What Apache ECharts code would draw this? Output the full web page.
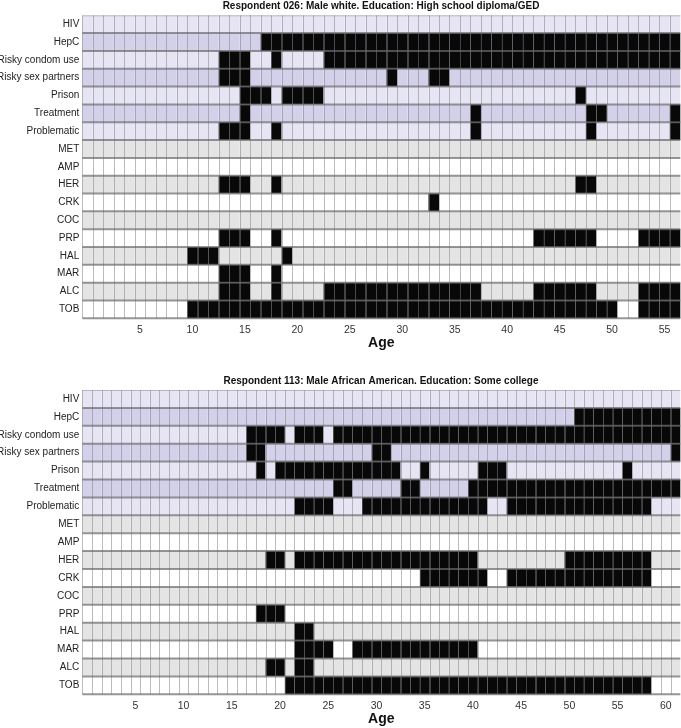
<!DOCTYPE html>
<html><head><meta charset="utf-8">
<script src="https://cdn.jsdelivr.net/npm/echarts@6/dist/echarts.min.js"></script>
<style>html,body{margin:0;padding:0;background:#fff}#c{width:681px;height:728px}</style>
</head><body><div id="c"></div><script>
// Row (indicator) names, top to bottom
const rowNames = ["HIV","HepC","Risky condom use","Risky sex partners","Prison","Treatment","Problematic",
  "MET","AMP","HER","CRK","COC","PRP","HAL","MAR","ALC","TOB"];

// Panel titles
const title026 = "Respondent 026: Male white. Education: High school diploma/GED";
const title113 = "Respondent 113: Male African American. Education: Some college";

// Age ranges (first and last age column) and labelled ticks
const ageMax026 = 56;
const ageMax113 = 61;
const ticks026 = [5,10,15,20,25,30,35,40,45,50,55];
const ticks113 = [5,10,15,20,25,30,35,40,45,50,55,60];

// Cell states per row: one character per age starting at age 0 (1 = black). Spaces only group decades.
const cells026 = [
  "0000000000 0000000000 0000000000 0000000000 0000000000 0000000", // HIV
  "0000000000 0000000111 1111111111 1111111111 1111111111 1111111", // HepC
  "0000000000 0001110010 0001111111 1111111111 1111111111 1111111", // Risky condom use
  "0000000000 0001110000 0000000001 0001100000 0000000000 0000000", // Risky sex partners
  "0000000000 0000011101 1110000000 0000000000 0000000100 0000000", // Prison
  "0000000000 0000010000 0000000000 0000000100 0000000011 0000001", // Treatment
  "0000000000 0001110010 0000000000 0000000100 0000000010 0000001", // Problematic
  "0000000000 0000000000 0000000000 0000000000 0000000000 0000000", // MET
  "0000000000 0000000000 0000000000 0000000000 0000000000 0000000", // AMP
  "0000000000 0001110010 0000000000 0000000000 0000000110 0000000", // HER
  "0000000000 0000000000 0000000000 0001000000 0000000000 0000000", // CRK
  "0000000000 0000000000 0000000000 0000000000 0000000000 0000000", // COC
  "0000000000 0001110010 0000000000 0000000000 0001111110 0001111", // PRP
  "0000000000 1110000001 0000000000 0000000000 0000000000 0000000", // HAL
  "0000000000 0001110010 0000000000 0000000000 0000000000 0000000", // MAR
  "0000000000 0001110010 0001111111 1111111100 0001111110 0001111", // ALC
  "0000000000 1111111111 1111111111 1111111111 1111111111 1001111"  // TOB
];
const cells113 = [
  "0000000000 0000000000 0000000000 0000000000 0000000000 0000000000 00", // HIV
  "0000000000 0000000000 0000000000 0000000000 0000000000 0111111111 11", // HepC
  "0000000000 0000000111 1011101111 1111111111 1111111111 1111111111 11", // Risky condom use
  "0000000000 0000000110 0000000000 1100000000 0000000000 0000000000 01", // Risky sex partners
  "0000000000 0000000010 1111111111 1110010000 0111000000 0000001000 00", // Prison
  "0000000000 0000000000 0000001100 0001100000 1111111111 1111111111 11", // Treatment
  "0000000000 0000000000 0011110001 1111111111 1100111111 1111111110 00", // Problematic
  "0000000000 0000000000 0000000000 0000000000 0000000000 0000000000 00", // MET
  "0000000000 0000000000 0000000000 0000000000 0000000000 0000000000 00", // AMP
  "0000000000 0000000001 1011111111 1111111111 1000000000 1111111110 00", // HER
  "0000000000 0000000000 0000000000 0000011111 1100111111 1111111110 00", // CRK
  "0000000000 0000000000 0000000000 0000000000 0000000000 0000000000 00", // COC
  "0000000000 0000000011 1000000000 0000000000 0000000000 0000000000 00", // PRP
  "0000000000 0000000000 0011000000 0000000000 0000000000 0000000000 00", // HAL
  "0000000000 0000000000 0011110011 1111111111 1000000000 0000000000 00", // MAR
  "0000000000 0000000001 1011000000 0000000000 0000000000 0000000000 00", // ALC
  "0000000000 0000000000 0111111111 1111111111 1111111111 1111111110 00"  // TOB
];

// ---------- styling / building ----------
const FONT = "Liberation Sans, Arial, Helvetica, sans-serif";
function rowBg(r){
  if (r < 7) return (r % 2 === 0) ? '#e7e5f3' : '#d3d1e9';
  return (r % 2 === 1) ? '#e4e4e4' : '#ffffff';
}
function ages(maxAge){ const a=[]; for(let i=0;i<=maxAge;i++) a.push(String(i)); return a; }
function cellData(rows){
  const d=[];
  rows.forEach((s,r)=>{
    const bits = s.replace(/\s/g,'');
    for(let a=0;a<bits.length;a++) d.push([a, r, +bits[a]]);
  });
  return d;
}
function renderCell(params, api){
  const x=api.value(0), y=api.value(1), v=api.value(2);
  const p=api.coord([x,y]); const s=api.size([1,1]);
  return {type:'rect', shape:{x:p[0]-s[0]/2, y:p[1]-s[1]/2, width:s[0], height:s[1]},
    style:{fill: v ? '#080808' : rowBg(y)}};
}
function renderVLine(params, api){
  const cs=params.coordSys;
  const p=api.coord([api.value(0),0]); const s=api.size([1,1]);
  const xl=Math.round(p[0]-s[0]/2)+0.5;
  const children=[{type:'line', shape:{x1:xl,y1:cs.y,x2:xl,y2:cs.y+cs.height},
    style:{stroke:'rgba(120,120,130,0.5)', lineWidth:1}}];
  return {type:'group', children};
}
function renderHLine(params, api){
  const cs=params.coordSys;
  const r=api.value(1);
  const p=api.coord([0,r]); const s=api.size([1,1]);
  const yb=p[1]+s[1]/2;
  const children=[{type:'line', shape:{x1:cs.x,y1:yb,x2:cs.x+cs.width,y2:yb},
    style:{stroke:'rgba(105,105,110,0.7)', lineWidth:2}}];
  if(r===0){
    children.push({type:'line', shape:{x1:cs.x,y1:cs.y+0.5,x2:cs.x+cs.width,y2:cs.y+0.5},
      style:{stroke:'rgba(150,150,160,0.6)', lineWidth:1}});
  }
  return {type:'group', children};
}

const panels = [
  {cells:cells026, maxAge:ageMax026, ticks:ticks026, title:title026, top:15.3, height:303, nameGap:15},
  {cells:cells113, maxAge:ageMax113, ticks:ticks113, title:title113, top:390, height:304.3, nameGap:18}
];

const option = {
  animation:false,
  backgroundColor:'#fff',
  grid:[], xAxis:[], yAxis:[], series:[], graphic:[]
};
panels.forEach((pn,i)=>{
  const cat = ages(pn.maxAge);
  const width = 598;
  option.grid.push({left:82.3, top:pn.top, width:width, height:pn.height, containLabel:false, outerBoundsMode:'none'});
  option.xAxis.push({type:'category', gridIndex:i, data:cat, boundaryGap:true,
    axisTick:{show:false}, axisLine:{show:false}, splitLine:{show:false},
    axisLabel:{interval:(idx,val)=>pn.ticks.indexOf(+val)>=0, fontSize:10.5, color:'#333', fontFamily:FONT, margin:6},
    name:'Age', nameLocation:'middle', nameGap:pn.nameGap,
    nameTextStyle:{fontSize:14, fontWeight:'bold', color:'#111', fontFamily:FONT, verticalAlign:'top'}});
  option.yAxis.push({type:'category', gridIndex:i, data:rowNames, inverse:true,
    axisTick:{show:false}, axisLine:{show:false}, splitLine:{show:false},
    axisLabel:{fontSize:10, color:'#222', fontFamily:FONT, margin:3}});
  option.series.push({type:'custom', xAxisIndex:i, yAxisIndex:i, renderItem:renderCell,
    data:cellData(pn.cells), z:1, silent:true});
  option.series.push({type:'custom', xAxisIndex:i, yAxisIndex:i, renderItem:renderVLine,
    data:cat.map((c,k)=>[k,0]), z:2, silent:true, clip:false});
  option.series.push({type:'custom', xAxisIndex:i, yAxisIndex:i, renderItem:renderHLine,
    data:rowNames.map((n,r)=>[0,r]), z:3, silent:true, clip:false});
  option.graphic.push({type:'text', x:381, y:pn.top-14, z:10,
    style:{text:pn.title, textAlign:'center', fill:'#111', font:'bold 10px '+FONT}});
});

const chart = echarts.init(document.getElementById('c'), null, {renderer:'canvas'});
chart.setOption(option);
</script></body></html>
